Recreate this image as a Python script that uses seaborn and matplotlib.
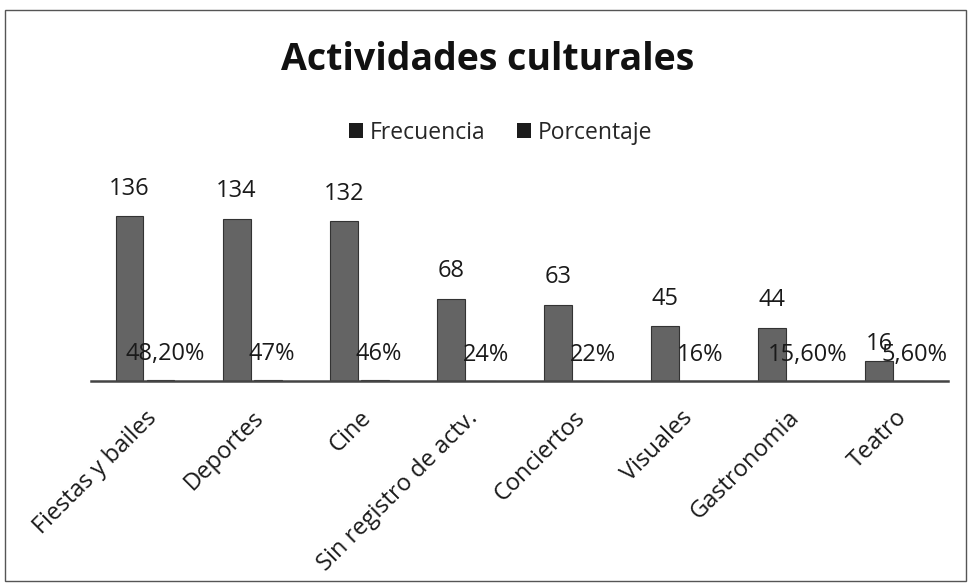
import pandas as pd
import numpy as np
import seaborn as sns
import matplotlib.pyplot as plt
from matplotlib.patches import Rectangle, Patch

# datos
actividades = ["Fiestas y bailes", "Deportes", "Cine", "Sin registro de actv.",
               "Conciertos", "Visuales", "Gastronomia", "Teatro"]
frecuencia = [136, 134, 132, 68, 63, 45, 44, 16]
porcentaje = [0.482, 0.47, 0.46, 0.24, 0.22, 0.16, 0.156, 0.056]
etiquetas_pct = ["48,20%", "47%", "46%", "24%", "22%", "16%", "15,60%", "5,60%"]

df = pd.DataFrame({
    "actividad": actividades * 2,
    "valor": frecuencia + porcentaje,
    "serie": ["Frecuencia"] * len(actividades) + ["Porcentaje"] * len(actividades),
})

sns.set_theme(style="white")
plt.rcParams["font.family"] = ["Open Sans", "DejaVu Sans"]

fig = plt.figure(figsize=(9.7, 5.85), dpi=100)
ax = fig.add_axes([0.0943, 0.349, 0.883, 0.331])

gris = "#646464"
sns.barplot(data=df, x="actividad", y="valor", hue="serie", order=actividades,
            palette=[gris, gris], width=0.58, gap=0.1, legend=False, ax=ax,
            edgecolor="#333333", linewidth=0.8)

ax.set_xlim(-0.5, 7.5)
ax.set_ylim(0, 160)
ax.set_xlabel("")
ax.set_ylabel("")
ax.set_yticks([])
for s in ["left", "right", "top"]:
    ax.spines[s].set_visible(False)
ax.spines["bottom"].set_color("#444444")
ax.spines["bottom"].set_linewidth(1.8)

# etiquetas de datos
cont_frec, cont_pct = ax.containers[0], ax.containers[1]
for i, (bar, v) in enumerate(zip(cont_frec, frecuencia)):
    dy = 4 if i == len(frecuencia) - 1 else 11  # el "16" queda pegado a la barra
    ax.annotate(str(v), (bar.get_x() + bar.get_width() / 2, bar.get_height()),
                xytext=(0, dy), textcoords="offset points", ha="center", va="bottom",
                fontsize=17, color="#1a1a1a")
for bar, t in zip(cont_pct, etiquetas_pct):
    ax.annotate(t, (bar.get_x() + bar.get_width() / 2 + 0.04, bar.get_height()),
                xytext=(0, 10), textcoords="offset points", ha="center", va="bottom",
                fontsize=17, color="#1a1a1a")

ax.set_xticks(range(len(actividades)))
ax.set_xticklabels(actividades, rotation=45, ha="right", rotation_mode="anchor",
                   fontsize=17, color="#1a1a1a")
ax.tick_params(axis="x", length=0, pad=18)

fig.text(0.503, 0.897, "Actividades culturales", ha="center", va="center",
         fontsize=27, fontweight="bold", color="#111111")

handles = [Patch(facecolor="#1c1c1c", edgecolor="none"),
           Patch(facecolor="#1c1c1c", edgecolor="none")]
fig.legend(handles, ["Frecuencia", "Porcentaje"], loc="center", ncol=2,
           bbox_to_anchor=(0.516, 0.773), frameon=False, fontsize=16.5,
           handlelength=0.6, handleheight=0.6, handletextpad=0.3, columnspacing=1.4)

# marco del grafico
fig.patches.append(Rectangle((5 / 970, 4 / 585), 961 / 970, 571 / 585,
                             transform=fig.transFigure, fill=False,
                             edgecolor="#555555", linewidth=1.0))

fig.savefig("out.png", dpi=100)
